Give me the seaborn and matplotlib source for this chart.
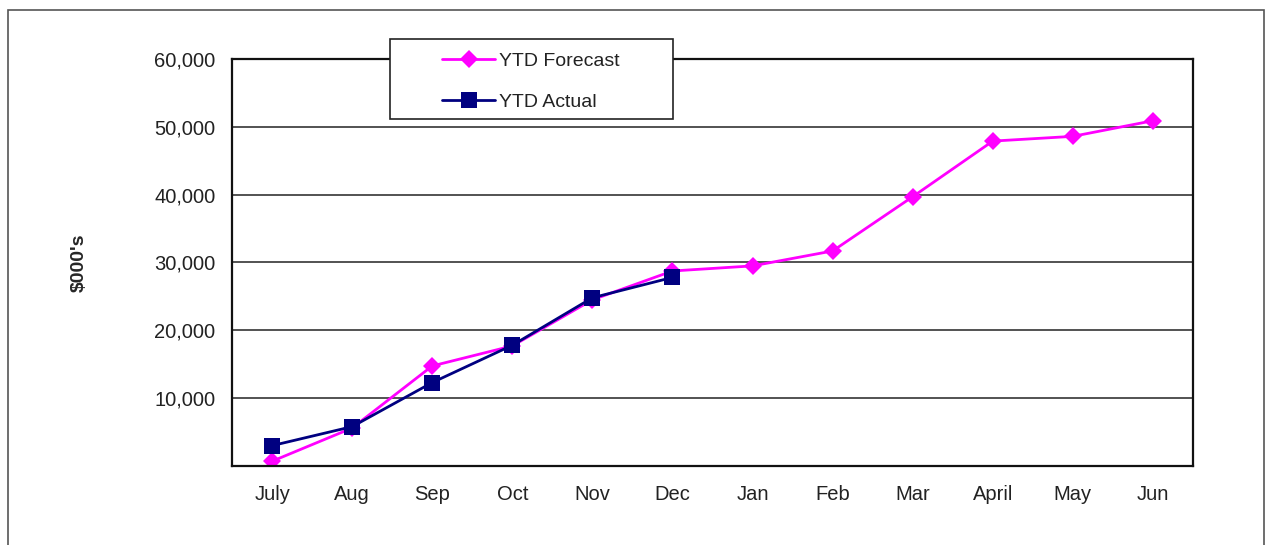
import matplotlib
matplotlib.use("Agg")
from matplotlib import pyplot as plt
from matplotlib.patches import Rectangle
import seaborn as sns
import pandas as pd

# данные графика
months = ['July', 'Aug', 'Sep', 'Oct', 'Nov', 'Dec',
          'Jan', 'Feb', 'Mar', 'April', 'May', 'Jun']
ytd_forecast = [700, 5600, 14750, 17700, 24500, 28750,
                29500, 31700, 39700, 47900, 48600, 50900]
ytd_actual = [3000, 5800, 12300, 17800, 24800, 27800]
y_ticks = [0, 10000, 20000, 30000, 40000, 50000, 60000]

sns.set_style("white")
plt.rcParams['font.family'] = ['Liberation Sans', 'DejaVu Sans']

df_f = pd.DataFrame({'x': range(len(ytd_forecast)), 'y': ytd_forecast})
df_a = pd.DataFrame({'x': range(len(ytd_actual)), 'y': ytd_actual})

fig = plt.figure(figsize=(12.66, 5.45), dpi=100)
ax = fig.add_axes([0.1833, 0.145, 0.759, 0.7467])

# рамка всей диаграммы
fig.patches.append(Rectangle((8 / 1266, -0.1), 1256 / 1266, 1 - 10 / 545 + 0.1,
                             transform=fig.transFigure, fill=False,
                             edgecolor='#555555', linewidth=1.2))

sns.lineplot(data=df_f, x='x', y='y', ax=ax, color='#FF00FF', linewidth=2,
             marker='D', markersize=9, markeredgewidth=0, label='YTD Forecast')
sns.lineplot(data=df_a, x='x', y='y', ax=ax, color='#000080', linewidth=2,
             marker='s', markersize=11, markeredgewidth=0, label='YTD Actual')

ax.set_xlim(-0.5, len(months) - 0.5)
ax.set_ylim(0, 60000)
ax.set_yticks(y_ticks)
ax.set_yticklabels([''] + [f'{v:,}' for v in y_ticks[1:]], fontsize=14.5, color='#222222')
ax.set_xticks([i + 0.5 for i in range(-1, len(months))])
ax.set_xticklabels([])
ax.set_xticks(range(len(months)), minor=True)
ax.set_xticklabels(months, minor=True, fontsize=14.5, color='#222222')
ax.tick_params(axis='x', which='minor', length=0, pad=14)
ax.tick_params(axis='x', which='major', length=6, width=1.2, direction='out', color='#222222')
ax.tick_params(axis='y', length=6, width=1.2, direction='out', color='#222222', pad=6)
ax.set_xlabel('')
ax.set_ylabel("$000's", fontsize=14, fontweight='bold', labelpad=48)

ax.yaxis.grid(True, color='#444444', linewidth=1.3)
ax.set_axisbelow(True)
for s in ax.spines.values():
    s.set_visible(True)
    s.set_color('#111111')
    s.set_linewidth(1.6)

# рамка легенды отдельно, сама легенда без рамки
fig.patches.append(Rectangle((390 / 1266, 1 - 119 / 545), 283 / 1266, 80 / 545,
                             transform=fig.transFigure, facecolor='white',
                             edgecolor='#222222', linewidth=1.2, zorder=5))
handles, labels = ax.get_legend_handles_labels()
ax.get_legend().remove()
leg = fig.legend(handles, labels, loc='upper left',
                 bbox_to_anchor=(442 / 1266, 1 - 52 / 545),
                 bbox_transform=fig.transFigure, fontsize=14,
                 frameon=False, handlelength=2.75, borderpad=0,
                 labelspacing=1.2, handletextpad=0.2, borderaxespad=0)
leg.set_zorder(10)
for t in leg.get_texts():
    t.set_color('#222222')

plt.savefig('out.png', dpi=100)
